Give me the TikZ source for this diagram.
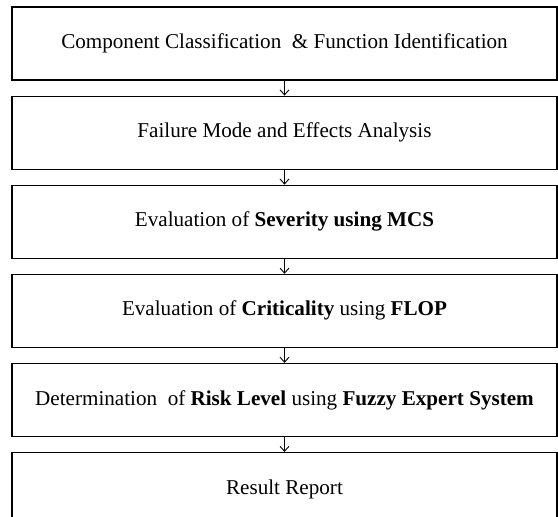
\documentclass[tikz,border=0pt]{standalone}
\usepackage{fontspec}
\setmainfont{Liberation Serif}
\usetikzlibrary{positioning,arrows.meta}

\tikzset{stagebox/.style={draw,line width=1.1bp,minimum width=545bp,minimum height=73bp,inner sep=0pt,font=\fontsize{21.2}{25}\selectfont}}

\begin{document}
\begin{tikzpicture}[x=1bp,y=-1bp,>={Straight Barb[length=5bp,width=9bp,line width=0.9bp]},node distance=15bp]
\useasboundingbox (0,0) rectangle (558,517);
\clip (0,0) rectangle (558,517);
% the six stages, top to bottom
\node[stagebox] (classif) at (284.5,43.5) {Component Classification\ \ \& Function Identification};
\node[stagebox,below=of classif] (fmea) {Failure Mode and Effects Analysis};
\node[stagebox,below=of fmea] (sever) {Evaluation of \textbf{Severity using MCS}};
\node[stagebox,below=of sever] (critic) {Evaluation of \textbf{Criticality} using \textbf{FLOP}};
\node[stagebox,below=of critic] (risk) {Determination\ \ of \textbf{Risk Level} using \textbf{Fuzzy Expert System}};
\node[stagebox,below=of risk] (report) {Result Report};
% connectors
\draw[->,line width=0.3bp] (classif) -- (fmea);
\draw[->,line width=0.3bp] (fmea) -- (sever);
\draw[->,line width=0.3bp] (sever) -- (critic);
\draw[->,line width=0.3bp] (critic) -- (risk);
\draw[->,line width=0.3bp] (risk) -- (report);
\end{tikzpicture}
\end{document}
